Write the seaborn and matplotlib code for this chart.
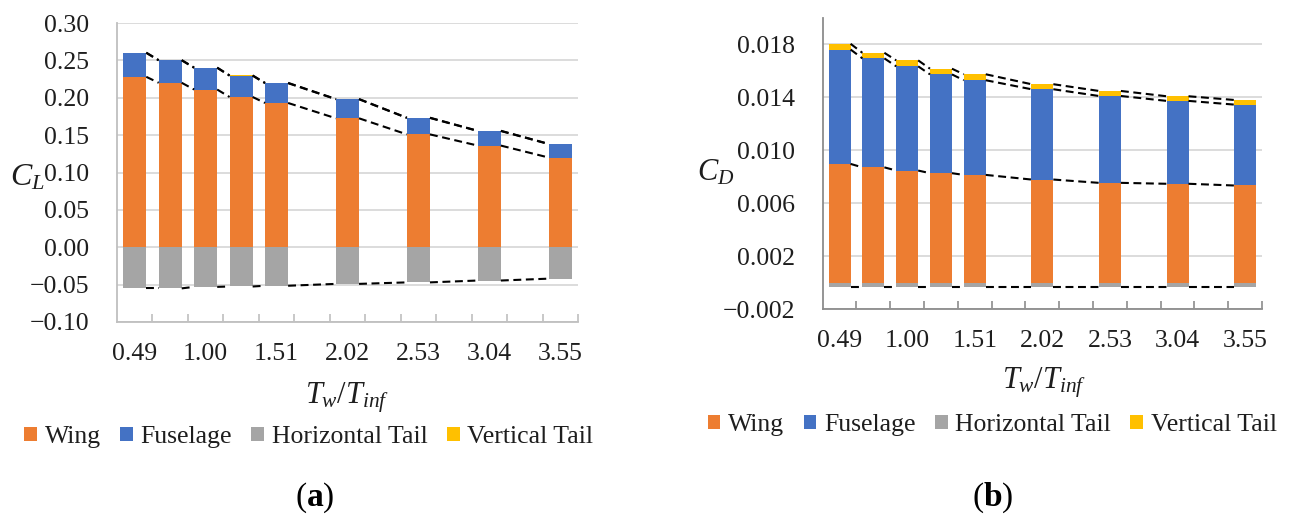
import numpy as np
import pandas as pd
import matplotlib
matplotlib.use("Agg")
import matplotlib.pyplot as plt
from matplotlib.patches import Patch
from matplotlib.ticker import FixedLocator, FuncFormatter
import seaborn as sns

# Category slots of the wall-to-freestream temperature ratio axis
slots = ["0.49", "0.75", "1.00", "1.25", "1.51", "1.76", "2.02",
         "2.27", "2.53", "2.78", "3.04", "3.29", "3.55"]
# Ratios that were actually computed
cases = ["0.49", "0.75", "1.00", "1.25", "1.51", "2.02", "2.53", "3.04", "3.55"]

# Lift coefficient contributions
cl_wing = [0.228, 0.220, 0.211, 0.201, 0.193, 0.1725, 0.151, 0.136, 0.120]
cl_fuselage = [0.032, 0.030, 0.029, 0.0285, 0.0265, 0.0255, 0.022, 0.0195, 0.018]
cl_htail = [-0.055, -0.055, -0.053, -0.0525, -0.0515, -0.049, -0.047, -0.0445, -0.042]
cl_vtail = [0.0004, 0.0004, 0.0004, 0.0004, 0.0004, 0.0003, 0.0003, 0.0003, 0.0003]

# Drag coefficient contributions
cd_wing = [0.00898, 0.00872, 0.00848, 0.00828, 0.00815, 0.00780, 0.00755, 0.00748, 0.00735]
cd_fuselage = [0.00864, 0.00823, 0.00787, 0.00746, 0.00715, 0.00682, 0.00656, 0.00626, 0.00611]
cd_htail = [-0.0003, -0.0003, -0.0003, -0.0003, -0.0003, -0.0003, -0.0003, -0.0003, -0.0003]
cd_vtail = [0.00043, 0.00042, 0.00045, 0.00043, 0.00045, 0.00038, 0.00038, 0.00035, 0.00035]

component_names = ["Wing", "Fuselage", "Horizontal Tail", "Vertical Tail"]
colors = {"wing": "#ED7D31", "fuselage": "#4472C4",
          "htail": "#A5A5A5", "vtail": "#FFC000"}

sns.set_theme(style="white")
plt.rcParams["font.family"] = ["Liberation Serif", "DejaVu Serif"]
plt.rcParams["mathtext.fontset"] = "custom"
plt.rcParams["mathtext.rm"] = "Liberation Serif"
plt.rcParams["mathtext.it"] = "Liberation Serif:italic"
plt.rcParams["mathtext.bf"] = "Liberation Serif:bold"

TEXT = "#1e1e1e"
GRID = "#D9D9D9"
TICK_FS = 18.5
TITLE_FS = 22

W, H = 1290, 518
fig = plt.figure(figsize=(W / 100, H / 100), dpi=100)


def px_axes(x0, x1, y0, y1):
    return fig.add_axes([x0 / W, 1 - y1 / H, (x1 - x0) / W, (y1 - y0) / H])


def series_lines(ax, bars):
    rects = list(bars)
    for a, b in zip(rects[:-1], rects[1:]):
        ya = a.get_y() + a.get_height()
        yb = b.get_y() + b.get_height()
        ax.plot([a.get_x() + a.get_width(), b.get_x()], [ya, yb],
                color="black", lw=1.5, ls=(0, (3.8, 2.2)), zorder=4,
                dash_capstyle="butt")


def draw_panel(ax, wing, fus, htail, vtail):
    df = pd.DataFrame({"case": cases, "wing": wing, "fuselage": fus,
                       "htail": htail, "vtail": vtail})
    wing_a = np.asarray(wing)
    fus_a = np.asarray(fus)
    layers = [("wing", np.zeros(len(cases))),
              ("fuselage", wing_a),
              ("htail", np.zeros(len(cases))),
              ("vtail", wing_a + fus_a)]
    conts = {}
    for name, bottom in layers:
        sns.barplot(data=df, x="case", y=name, order=slots, color=colors[name],
                    saturation=1, width=0.65, errorbar=None, bottom=bottom,
                    edgecolor="none", linewidth=0, ax=ax, zorder=3)
        conts[name] = ax.containers[-1]
    for name in ["wing", "fuselage", "htail", "vtail"]:
        series_lines(ax, conts[name])


def style_axes(ax, ylim, yticks, fmt, spine_color):
    ax.set_xlim(-0.5, 12.5)
    ax.set_ylim(*ylim)
    ax.set_xlabel("")
    ax.set_ylabel("")
    ax.set_xticks(range(0, 13, 2))
    ax.set_xticklabels(slots[::2])
    ax.xaxis.set_minor_locator(FixedLocator(np.arange(0.5, 12.6, 1.0)))
    ax.set_yticks(yticks)
    ax.yaxis.set_major_formatter(FuncFormatter(lambda v, p: fmt.format(v).replace("-", "\u2212")))
    ax.tick_params(axis="x", which="major", length=0, pad=15,
                   labelsize=TICK_FS, labelcolor=TEXT)
    ax.tick_params(axis="x", which="minor", bottom=True, direction="in",
                   length=6, width=1.2, color=spine_color)
    ax.tick_params(axis="y", length=0, pad=20, labelsize=TICK_FS, labelcolor=TEXT)
    ax.yaxis.grid(True, color=GRID, lw=1.3)
    ax.set_axisbelow(True)
    for s in ["top", "right"]:
        ax.spines[s].set_visible(False)
    for s in ["left", "bottom"]:
        ax.spines[s].set_color(spine_color)
        ax.spines[s].set_linewidth(1.3)
        ax.spines[s].set_zorder(5)


# (a) lift coefficient breakdown
axL = px_axes(117, 578, 23, 322)
draw_panel(axL, cl_wing, cl_fuselage, cl_htail, cl_vtail)
style_axes(axL, (-0.10, 0.30), np.arange(-0.10, 0.301, 0.05), "{:.2f}", "#BFBFBF")

# (b) drag coefficient breakdown
axR = px_axes(822.7, 1262, 18, 309.3)
draw_panel(axR, cd_wing, cd_fuselage, cd_htail, cd_vtail)
style_axes(axR, (-0.002, 0.020), np.arange(-0.002, 0.0181, 0.004), "{:.3f}", "#8C8C8C")

# axis titles
fig.text(10 / W, 1 - 178 / H, r"$C_L$", ha="left", va="center",
         fontsize=TITLE_FS + 1, color=TEXT)
fig.text(697 / W, 1 - 173 / H, r"$C_D$", ha="left", va="center",
         fontsize=TITLE_FS, color=TEXT)
fig.text(347 / W, 1 - 398 / H, r"$T_w/T_{inf}$", ha="center", va="center",
         fontsize=TITLE_FS, color=TEXT)
fig.text(1044 / W, 1 - 383 / H, r"$T_w/T_{inf}$", ha="center", va="center",
         fontsize=TITLE_FS, color=TEXT)

# legends
handles = [Patch(facecolor=colors[k], edgecolor="none")
           for k in ["wing", "fuselage", "htail", "vtail"]]
legend_kw = dict(ncol=4, frameon=False, handlelength=0.5, handleheight=0.5,
                 handletextpad=0.3, columnspacing=0.75, fontsize=TICK_FS,
                 borderpad=0, borderaxespad=0, labelcolor=TEXT)
fig.legend(handles, component_names, loc="center left",
           bbox_to_anchor=(24 / W, 1 - 437 / H), **legend_kw)
fig.legend(handles, component_names, loc="center right",
           bbox_to_anchor=(1277 / W, 1 - 425 / H), **legend_kw)

# panel captions
fig.text(315 / W, 1 - 498 / H, r"($\mathbf{a}$)", ha="center", va="center",
         fontsize=24, color="black")
fig.text(993 / W, 1 - 498 / H, r"($\mathbf{b}$)", ha="center", va="center",
         fontsize=24, color="black")

fig.savefig("out.png", dpi=100, facecolor="white")
